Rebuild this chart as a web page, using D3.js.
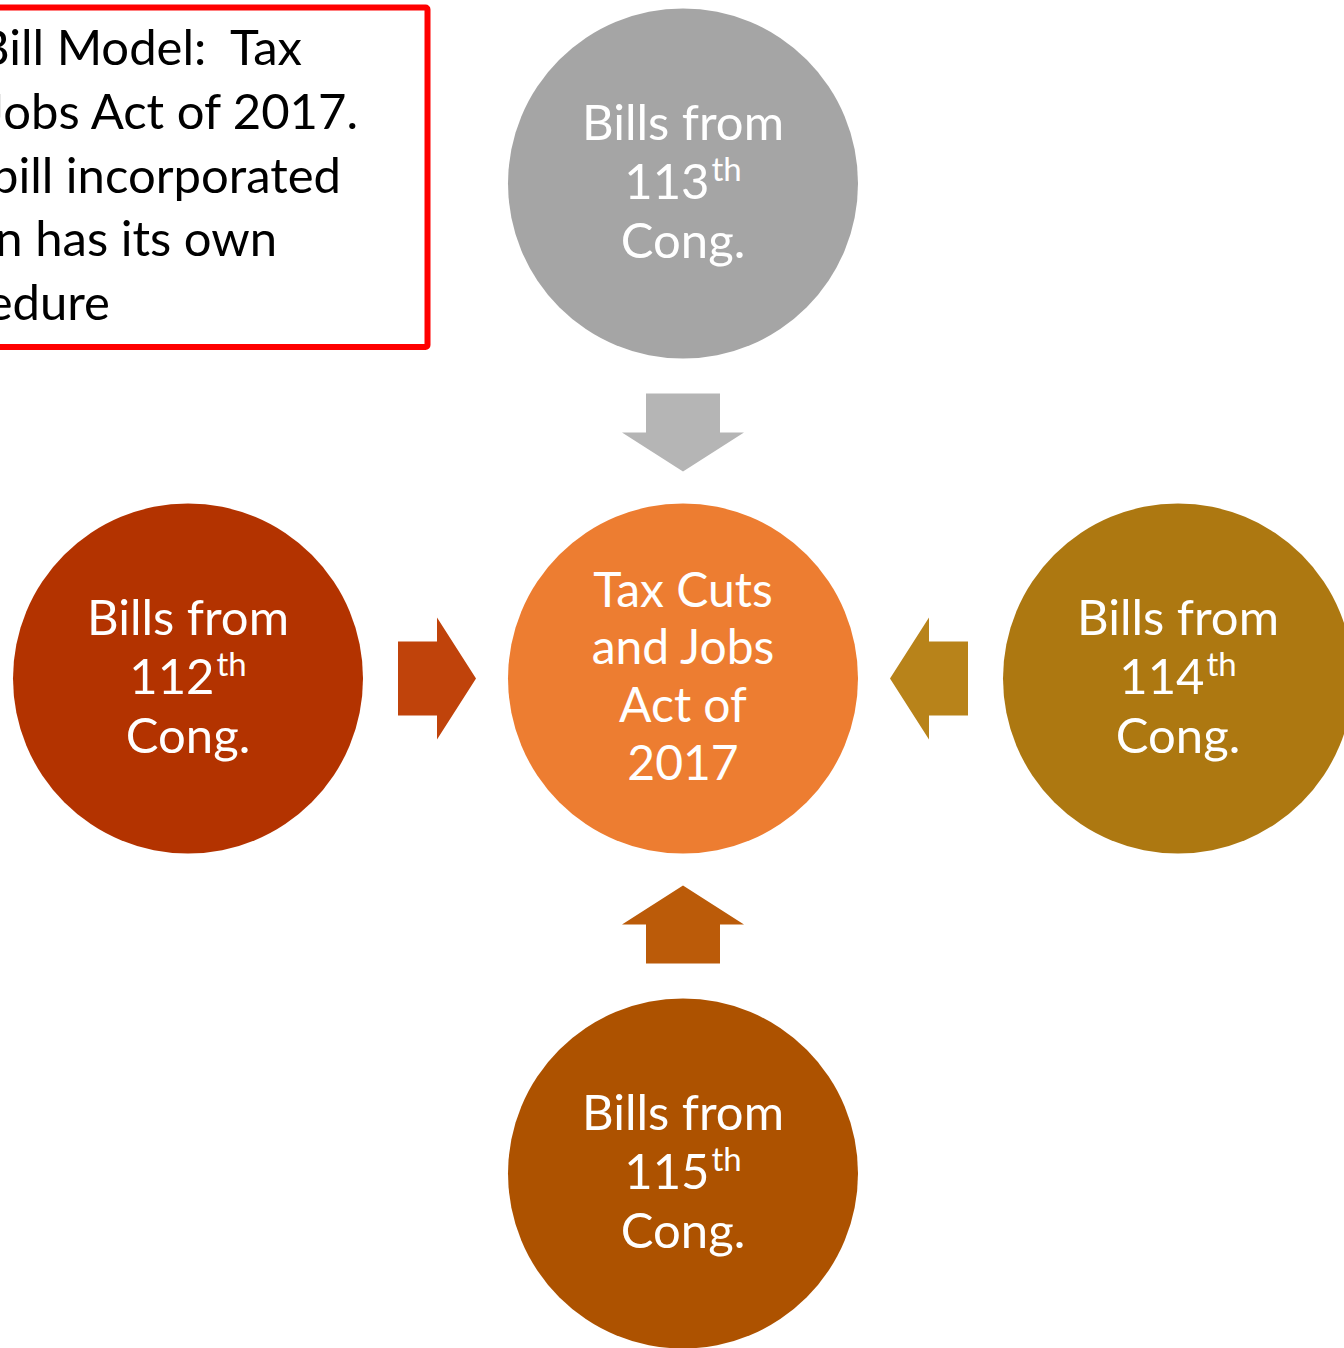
<!doctype html>
<html lang="en">
  <head>
    <meta charset="utf-8">
    <script src="https://d3js.org/d3.v7.min.js"></script>
    <title>Omnibus Bill Model</title>
    <style>
      html, body { margin: 0; padding: 0; background: #fff; }
      svg { display: block; }
      text { font-family: Lato, "Open Sans", sans-serif; }
    </style>
  </head>
  <body>
    <div id="chart"></div>
    <script>
      // Bills feeding into the central act (grid col/row relative to the centre)
      const congresses = ["112", "113", "114", "115"];
      const gridCol    = [-1, 0, 1, 0];
      const gridRow    = [0, -1, 0, 1];
      const circleColors = ["#b33300", "#a5a5a5", "#ad7811", "#ad5200"];
      const arrowColors  = ["#c0430b", "#b5b5b5", "#b8831a", "#bb5b09"];

      const centerLines = ["Tax Cuts", "and Jobs", "Act of", "2017"];
      const centerColor = "#ed7d31";

      // note box, left part of it is off the slide
      const noteLines = ["Bill Model:  Tax", "Jobs Act of 2017.", "bill incorporated", "n has its own", "edure"];
      const noteEnds  = [302, 358, 341, 277, 110];

      const W = 1344, H = 1348, R = 175;

      const svg = d3.select("#chart").append("svg")
        .attr("width", W).attr("height", H);

      const x = d3.scaleLinear().domain([-1, 1]).range([188, 1178]);
      const y = d3.scaleLinear().domain([-1, 1]).range([183.5, 1173.5]);

      // red note box
      svg.append("rect")
        .attr("x", -20).attr("y", 7.5)
        .attr("width", 447.5).attr("height", 339.5)
        .attr("rx", 2)
        .attr("fill", "#fff")
        .attr("stroke", "#ff0000")
        .attr("stroke-width", 6);

      svg.append("g").selectAll("text")
        .data(noteLines)
        .join("text")
          .attr("x", (d, i) => noteEnds[i])
          .attr("y", (d, i) => 65 + i * 63.8)
          .attr("text-anchor", "end")
          .attr("font-size", 49)
          .attr("fill", "#000")
          .style("white-space", "pre")
          .text(d => d);

      const nodes = congresses.map((c, i) => ({
        num: c, col: gridCol[i], row: gridRow[i],
        fill: circleColors[i], arrow: arrowColors[i]
      }));

      // arrows, drawn pointing right (toward centre) then rotated
      const arrowShape = [[-285, -37], [-246, -37], [-246, -61], [-207, 0],
                          [-246, 61], [-246, 37], [-285, 37]];
      svg.append("g").selectAll("path")
        .data(nodes)
        .join("path")
          .attr("d", d3.line()(arrowShape) + "Z")
          .attr("fill", d => d.arrow)
          .attr("transform", d => {
            const ang = Math.atan2(d.row, d.col) * 180 / Math.PI + 180;
            return `translate(${x(0)},${y(0)}) rotate(${ang})`;
          });

      // outer circles
      const g = svg.append("g").selectAll("g")
        .data(nodes)
        .join("g")
          .attr("transform", d => `translate(${x(d.col)},${y(d.row)})`);

      g.append("circle").attr("r", R).attr("fill", d => d.fill);

      g.append("text")
        .attr("y", -44).attr("text-anchor", "middle")
        .attr("font-size", 49).attr("fill", "#fff")
        .text("Bills from");

      const num = g.append("text")
        .attr("y", 15).attr("text-anchor", "middle")
        .attr("font-size", 49).attr("fill", "#fff");
      num.append("tspan").text(d => d.num);
      num.append("tspan")
        .attr("font-size", 33).attr("dx", 2).attr("dy", -18)
        .text("th");

      g.append("text")
        .attr("y", 74).attr("text-anchor", "middle")
        .attr("font-size", 49).attr("fill", "#fff")
        .text("Cong.");

      // centre circle
      const c = svg.append("g")
        .attr("transform", `translate(${x(0)},${y(0)})`);
      c.append("circle").attr("r", R).attr("fill", centerColor);
      c.selectAll("text")
        .data(centerLines)
        .join("text")
          .attr("y", (d, i) => -72 + i * 57.7)
          .attr("text-anchor", "middle")
          .attr("font-size", 48)
          .attr("fill", "#fff")
          .text(d => d);
    </script>
  </body>
</html>
